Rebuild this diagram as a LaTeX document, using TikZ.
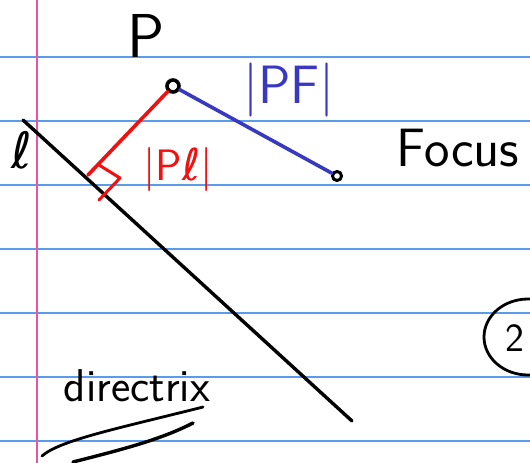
\documentclass[tikz,border=0pt]{standalone}
\usepackage{fontspec}
\usepackage{xcolor}
\usepackage{tikz}
\usetikzlibrary{positioning}
\newfontfamily\symbfont{DejaVu Sans}
\definecolor{ruleblue}{HTML}{5A9BEA}
\definecolor{marginpink}{HTML}{F050A8}
\definecolor{inkred}{HTML}{F01010}
\definecolor{inkblue}{HTML}{3838C0}

\tikzset{
  ink/.style={line width=3.4pt, line cap=round, line join=round},
  dotpt/.style={circle, draw=black, line width=3.6pt, inner sep=0pt, minimum size=12pt},
  hand/.style={inner sep=0pt, font=\sffamily}
}

\begin{document}
\begin{tikzpicture}[x=1pt, y=-1pt]
\useasboundingbox (0,0) rectangle (530,463);
\clip (0,0) rectangle (530,463);
\fill[white] (0,0) rectangle (530,463);
% ruled paper
\foreach \y in {57,121,...,441}
  \draw[ruleblue, line width=1.5pt] (0,\y) -- (530,\y);
\draw[marginpink, line width=1.5pt] (37,0) -- (37,463);

% directrix
\coordinate (l1) at (23,120);
\coordinate (l2) at (352,421);
\draw[ink] (l1) -- (l2);

% points
\node[dotpt] (P) at (173,86) {};
\node[dotpt, minimum size=9pt, line width=3pt] (F) at (337,176) {};
\coordinate (foot) at (88,175);

% distances
\draw[ink, inkred, line width=3.6pt] (P) -- (foot);
\coordinate (m1) at (99,165);
\coordinate (m2) at (120,178);
\coordinate (m3) at (99,200);
\draw[ink, inkred, line width=3pt] (m1) -- (m2) -- (m3);
\draw[ink, inkblue, line width=3.6pt] (P) -- (F);

% labels
\node[hand, font=\sffamily\fontsize{62}{62}\selectfont] (Plabel) at (146,36) {P};
\node[hand, inkblue, font=\sffamily\fontsize{54}{54}\selectfont] (PFlabel) at (289,90) {|PF|};
\node[hand, inkred, font=\sffamily\fontsize{44}{44}\selectfont] (Pllabel) at (178,169) {|P{\symbfont ℓ}|};
\node[hand, font=\symbfont\fontsize{50}{50}\selectfont] (llabel) at (22,150) {ℓ};
\node[hand, font=\sffamily\fontsize{54}{54}\selectfont] (focus) at (458,148) {Focus};
\node[hand, font=\sffamily\fontsize{46}{46}\selectfont] (dirlabel) at (137,386) {directrix};
\coordinate (ring) at (528,337);
\draw[ink, line width=2.8pt] (ring) ellipse (44pt and 38pt);
\node[hand, font=\sffamily\fontsize{40}{40}\selectfont] (page) at (515,338) {2};

% underline
\coordinate (u1) at (42,456);
\coordinate (u2) at (203,407);
\coordinate (u3) at (73,462);
\coordinate (u4) at (193,423);
\draw[ink, line width=2.8pt] (u1) .. controls (60,440) and (120,428) .. (u2);
\draw[ink, line width=3.4pt] (u3) .. controls (120,450) and (160,440) .. (u4);
\end{tikzpicture}
\end{document}
